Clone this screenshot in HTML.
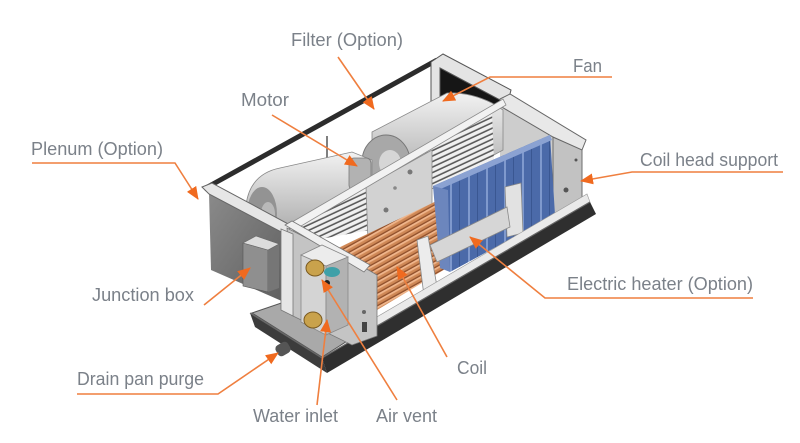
<!DOCTYPE html>
<html><head><meta charset="utf-8"><style>
html,body{margin:0;padding:0;background:#fff;}
svg{display:block;}
text{font-family:"Liberation Sans",sans-serif;font-size:18px;fill:#7b8189;}
</style></head><body>
<svg width="800" height="443" viewBox="0 0 800 443" xmlns="http://www.w3.org/2000/svg">
<defs>
 <linearGradient id="drum" x1="0" y1="0" x2="0" y2="1">
  <stop offset="0" stop-color="#f2f2f2"/><stop offset="1" stop-color="#a4a4a4"/>
 </linearGradient>
 <linearGradient id="plen" x1="0" y1="0" x2="1" y2="1">
  <stop offset="0" stop-color="#8a8a8a"/><stop offset="1" stop-color="#5f5f5f"/>
 </linearGradient>
 <pattern id="cu" patternUnits="userSpaceOnUse" width="10" height="5.5" patternTransform="rotate(-29)">
  <rect width="10" height="5.5" fill="#cf8856"/>
  <rect y="0" width="10" height="1.8" fill="#f0b68c"/>
  <rect y="4.2" width="10" height="1.3" fill="#8f4f2b"/>
 </pattern>
 <pattern id="fin" patternUnits="userSpaceOnUse" width="18" height="20">
  <rect width="18" height="20" fill="#4b6aa9"/>
  <rect x="0" width="2" height="20" fill="#7f99cd"/>
  <rect x="9" width="1" height="20" fill="#3a5792"/>
 </pattern>
 <pattern id="gr" patternUnits="userSpaceOnUse" width="6" height="5" patternTransform="rotate(-25)">
  <rect width="6" height="5" fill="#f0f0f0"/><rect y="3.4" width="6" height="1.6" fill="#5a5a5a"/>
 </pattern>
 <marker id="ah" markerWidth="13" markerHeight="11" refX="12" refY="5.5" orient="auto" markerUnits="userSpaceOnUse">
  <path d="M0,0 L13,5.5 L0,11 z" fill="#f06a1f"/>
 </marker>
</defs>

<!-- filter rod -->
<line x1="204" y1="189" x2="437" y2="60" stroke="#2c2c2c" stroke-width="5"/>
<line x1="327" y1="136" x2="327" y2="165" stroke="#555" stroke-width="1.5"/>

<!-- back top bracket -->
<polygon points="440,66 502,99 502,128 440,128" fill="#161616"/>
<polygon points="431,62 443,54 511,90 509,98 500,100 440,68 440,125 431,130" fill="#e4e4e4" stroke="#555" stroke-width="1"/>

<!-- right end panel -->
<polygon points="500,103 555,135 555,220 500,200" fill="#cdcdcd"/>
<polygon points="553,137 582,149 582,205 553,220" fill="#c2c2c2" stroke="#6d6d6d" stroke-width="1"/>
<polygon points="500,99 510,94 586,140 582,150 553,137 500,106" fill="#e8e8e8" stroke="#666" stroke-width="1"/>
<circle cx="566" cy="190" r="2.5" fill="#555"/>
<circle cx="576" cy="160" r="1.5" fill="#555"/>

<!-- fan 2 drum -->
<path d="M372,132 L447,93 Q470,92 492,103 L503,110 L503,150 L430,190 L372,190 Z" fill="url(#drum)" stroke="#888" stroke-width="0.8"/>
<ellipse cx="386" cy="162" rx="24" ry="27" fill="#a8a8a8" stroke="#777" stroke-width="1"/>
<ellipse cx="390" cy="163" rx="11" ry="13" fill="#d6d6d6"/>

<!-- fan 1 drum -->
<path d="M246,205 Q250,174 280,168 L352,152 L372,160 L372,205 L300,240 L252,242 Z" fill="url(#drum)" stroke="#888" stroke-width="0.8"/>
<ellipse cx="262" cy="214" rx="15" ry="27" fill="#939393"/>
<ellipse cx="268" cy="214" rx="7" ry="12" fill="#b9b9b9"/>
<!-- motor -->
<rect x="349" y="158" width="22" height="32" rx="5" fill="#b2b2b2" stroke="#7a7a7a" stroke-width="0.8"/>

<!-- grills and divider -->
<polygon points="300,224 367,186 370,230 304,242" fill="url(#gr)"/>
<polygon points="425,152 492,113 494,160 430,190" fill="url(#gr)"/>
<polygon points="366,187 432,150 432,212 368,242" fill="#d2d2d2" stroke="#8a8a8a" stroke-width="0.8"/>
<circle cx="386" cy="210" r="2.5" fill="#777"/>
<circle cx="410" cy="172" r="2.5" fill="#777"/>
<circle cx="395" cy="188" r="1.8" fill="#888"/>

<!-- mid top rail -->
<polygon points="287,225 503,99 506,105 291,232" fill="#f2f2f2" stroke="#8a8a8a" stroke-width="0.8"/>

<!-- copper coil -->
<polygon points="338,248 447,196 447,268 377,310 350,292" fill="url(#cu)"/>
<!-- blue fins -->
<polygon points="433,186 550,135 555,215 450,272" fill="url(#fin)"/>
<polygon points="433,186 550,135 552,140 436,191" fill="#8ba2d2"/>
<polygon points="433,186 448,190 450,272 440,268" fill="#6c86bd"/>

<!-- heater -->
<polygon points="505,187 521,183 523,233 507,237" fill="#e2e2e2" stroke="#888" stroke-width="0.8"/>
<polygon points="430,245 507,207 510,227 437,262" fill="#d6d6d6" stroke="#888" stroke-width="0.8"/>
<polygon points="417,240 428,236 438,292 424,296" fill="#ececec" stroke="#888" stroke-width="0.8"/>

<!-- pan floor band -->
<polygon points="375,318 587,194 590,202 378,328" fill="#eaeaea" stroke="#999" stroke-width="0.6"/>
<polygon points="378,328 590,202 590,206 378,334" fill="#8d8d8d"/>

<!-- plenum -->
<polygon points="209,193 284,233 284,302 211,270" fill="url(#plen)"/>
<polygon points="202,187 212,183 292,226 285,234 209,194" fill="#e6e6e6" stroke="#666" stroke-width="1"/>
<!-- junction box -->
<polygon points="243,243 268,250 268,292 243,286" fill="#8f8f8f" stroke="#555" stroke-width="0.6"/>
<polygon points="268,250 279,244 279,288 268,292" fill="#767676"/>
<polygon points="243,243 256,236 279,244 268,250" fill="#dcdcdc" stroke="#666" stroke-width="0.6"/>

<!-- pan -->
<polygon points="252,313 290,300 300,308 352,338 322,357" fill="#a9a9a9" stroke="#555" stroke-width="1"/>
<polygon points="250,313 322,358 327,373 255,327" fill="#3c3c3c"/>
<polygon points="322,358 590,202 596,214 327,373" fill="#2f2f2f"/>
<line x1="322" y1="358" x2="590" y2="202" stroke="#666" stroke-width="1.2"/>
<line x1="250" y1="313" x2="322" y2="358" stroke="#666" stroke-width="1.2"/>
<rect x="276" y="343" width="14" height="12" rx="4" fill="#555" transform="rotate(-30 283 349)"/>

<!-- end plate -->
<polygon points="287,228 365,268 377,275 377,336 352,345 293,316" fill="#c4c4c4" stroke="#777" stroke-width="0.8"/>
<polygon points="281,229 293,234 293,316 281,310" fill="#e6e6e6" stroke="#777" stroke-width="0.8"/>
<polygon points="285,225 292,221 370,265 364,272" fill="#efefef" stroke="#777" stroke-width="0.8"/>
<circle cx="364" cy="312" r="2" fill="#666"/>
<rect x="362" y="322" width="5" height="10" fill="#444"/>
<!-- water box -->
<polygon points="301,255 326,266 326,335 301,322" fill="#d4d4d4" stroke="#888" stroke-width="0.8"/>
<polygon points="326,266 348,257 348,325 326,335" fill="#b2b2b2" stroke="#888" stroke-width="0.8"/>
<polygon points="301,255 322,245 348,257 326,266" fill="#ececec" stroke="#888" stroke-width="0.8"/>
<ellipse cx="315" cy="268" rx="9" ry="8" fill="#c9a24c" stroke="#7a5a20" stroke-width="1"/>
<ellipse cx="313" cy="320" rx="9" ry="8" fill="#c9a24c" stroke="#7a5a20" stroke-width="1"/>
<ellipse cx="332" cy="272" rx="8" ry="5" fill="#3fa0a8"/>
<circle cx="327" cy="283" r="3" fill="#222"/>

<!-- leader lines -->
<g fill="none" stroke="#ef7f3f" stroke-width="1.6">
 <path d="M338,57 L374,109" marker-end="url(#ah)"/>
 <path d="M612,77 L490,77 L443,101" marker-end="url(#ah)"/>
 <path d="M272,115 L357,166" marker-end="url(#ah)"/>
 <path d="M32,163 L175,163 L198,199" marker-end="url(#ah)"/>
 <path d="M783,172 L632,172 L581,181" marker-end="url(#ah)"/>
 <path d="M753,298 L545,298 L470,237" marker-end="url(#ah)"/>
 <path d="M204,305 L250,268" marker-end="url(#ah)"/>
 <path d="M77,394 L218,394 L278,353" marker-end="url(#ah)"/>
 <path d="M447,357 L397,267" marker-end="url(#ah)"/>
 <path d="M317,405 L327,320" marker-end="url(#ah)"/>
 <path d="M397,400 L322,280" marker-end="url(#ah)"/>
</g>

<!-- labels -->
<text x="291" y="46" textLength="112" lengthAdjust="spacingAndGlyphs">Filter (Option)</text>
<text x="241" y="106" textLength="48" lengthAdjust="spacingAndGlyphs">Motor</text>
<text x="573" y="72" textLength="29" lengthAdjust="spacingAndGlyphs">Fan</text>
<text x="31" y="155" textLength="132" lengthAdjust="spacingAndGlyphs">Plenum (Option)</text>
<text x="640" y="166" textLength="138" lengthAdjust="spacingAndGlyphs">Coil head support</text>
<text x="92" y="301" textLength="102" lengthAdjust="spacingAndGlyphs">Junction box</text>
<text x="567" y="290" textLength="186" lengthAdjust="spacingAndGlyphs">Electric heater (Option)</text>
<text x="77" y="385" textLength="127" lengthAdjust="spacingAndGlyphs">Drain pan purge</text>
<text x="457" y="374" textLength="30" lengthAdjust="spacingAndGlyphs">Coil</text>
<text x="253" y="422" textLength="85" lengthAdjust="spacingAndGlyphs">Water inlet</text>
<text x="376" y="422" textLength="61" lengthAdjust="spacingAndGlyphs">Air vent</text>
</svg>
</body></html>
